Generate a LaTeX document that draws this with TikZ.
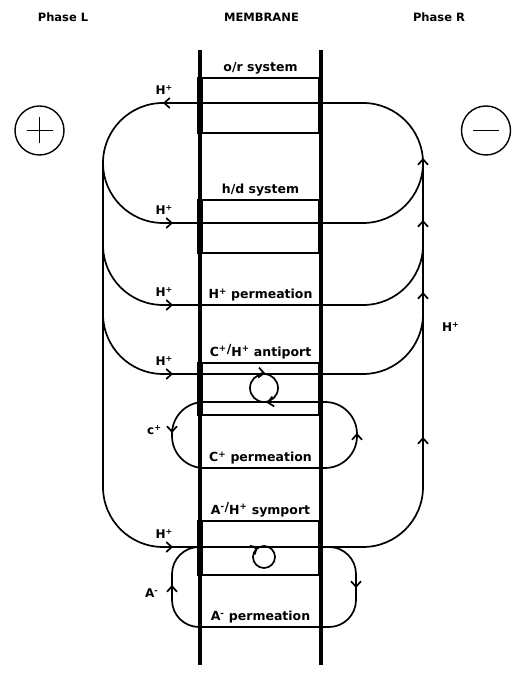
\documentclass[tikz,border=0pt]{standalone}
\usepackage{fontspec}
\setmainfont{DejaVu Sans}
\usetikzlibrary{positioning}
\usetikzlibrary{arrows.meta}
\usetikzlibrary{calc}
\newcommand{\Hp}{H\textsuperscript{+}}
\newcommand{\headfont}{\fontsize{11.5}{14}\selectfont\bfseries}
\newcommand{\sysfont}{\fontsize{12.5}{15}\selectfont\bfseries}
\newcommand{\ionfont}{\fontsize{12}{14}\selectfont\bfseries}
\newcommand{\flowtip}[2]{\draw[flowtip] ($#1+(#2:-4pt)$) -- #1;}
\tikzset{
  wall/.style={line width=4.5pt},
  thickwall/.style={line width=6pt},
  channel/.style={rectangle,draw,line width=1.4pt,minimum width=117pt,inner sep=0pt},
  gate/.style={inner sep=0pt,minimum size=0pt},
  cycle/.style={circle,draw,line width=1.7pt,inner sep=0pt,minimum size=#1},
  sysname/.style={font=\sysfont},
  heading/.style={font=\headfont},
  ion/.style={font=\ionfont,anchor=base west,inner sep=0pt},
  pole/.style={circle,draw,line width=1.4pt,minimum size=49pt},
  flux/.style={line width=1.7pt},
  flowtip/.style={flux,-{Straight Barb[length=5.5pt,width=10pt]}}
}

\begin{document}
\begin{tikzpicture}[x=1pt,y=1pt]
  \useasboundingbox (0,0) rectangle (519,677);
  % phases
  \node (phl) [heading] at (63,659.5) {Phase L};
  \node (mem) [heading] at (261.5,659.5) {MEMBRANE};
  \node (phr) [heading] at (439,659.5) {Phase R};
  \node (anode) [pole] at (39.5,546.5) {};
  \draw[line width=1.4pt] ([xshift=-13pt]anode.center) -- ([xshift=13pt]anode.center)
    ([yshift=-13pt]anode.center) -- ([yshift=13pt]anode.center);
  \node (cathode) [pole] at (486,546.5) {};
  \draw[line width=1.4pt] ([xshift=-13pt]cathode.center) -- ([xshift=13pt]cathode.center);
  % membrane
  \coordinate (mlt) at (200,627);
  \coordinate (mlb) at (200,12);
  \coordinate (mrt) at (321,627);
  \coordinate (mrb) at (321,12);
  \draw[wall] (mlt) -- (mlb);
  \draw[wall] (mrt) -- (mrb);
  \node (orsys) [channel,minimum height=55pt,label={[sysname]above:o/r system}] at (260.5,571.5) {};
  \node (hdsys) [channel,minimum height=53pt,label={[sysname]above:h/d system}] at (260.5,450.5) {};
  \node (anti) [channel,minimum height=52pt,
    label={[sysname]above:C\textsuperscript{+}\raisebox{3pt}{/}\Hp{} antiport}] at (260.5,288) {};
  \node (sym) [channel,minimum height=54pt,
    label={[sysname]above:A\textsuperscript{-}\raisebox{3pt}{/}\Hp{} symport}] at (260.5,129) {};
  \draw[thickwall] ([xshift=-1.5pt]orsys.north west) -- ([xshift=-1.5pt]orsys.south west);
  \draw[thickwall] ([xshift=-1.5pt]hdsys.north west) -- ([xshift=-1.5pt]hdsys.south west);
  \draw[thickwall] ([xshift=-1.5pt]anti.north west) -- ([xshift=-1.5pt]anti.south west);
  \draw[thickwall] ([xshift=-1.5pt]sym.north west) -- ([xshift=-1.5pt]sym.south west);
  \node (hperm) [gate,label={[sysname]above:\Hp{} permeation}] at (260.5,372) {};
  \node (cperm) [gate,label={[sysname]above:C\textsuperscript{+} permeation}] at (260.5,209) {};
  \node (aperm) [gate,label={[sysname]above:A\textsuperscript{-} permeation}] at (260.5,50) {};
  % proton circuit
  \coordinate (ltop) at (103,514);
  \coordinate (lbot) at (103,190);
  \coordinate (rtop) at (423,514);
  \coordinate (rbot) at (423,190);
  \draw[flux] (163,574) -- (363,574) arc[start angle=90,end angle=-90,radius=60pt]
    -- (163,454) arc[start angle=270,end angle=90,radius=60pt];
  \draw[flux] (ltop) -- (lbot);
  \draw[flux] (rbot) -- (rtop);
  \draw[flux] (103,432) arc[start angle=180,end angle=270,radius=60pt]
    -- (363,372) arc[start angle=270,end angle=360,radius=60pt];
  \draw[flux] (103,363) arc[start angle=180,end angle=270,radius=60pt]
    -- (363,303) arc[start angle=270,end angle=360,radius=60pt];
  \draw[flux] (lbot) arc[start angle=180,end angle=270,radius=60pt]
    -- (363,130) arc[start angle=270,end angle=360,radius=60pt];
  \flowtip{(163,574)}{180}
  \flowtip{(173,454)}{0}
  \flowtip{(173,372)}{0}
  \flowtip{(173,303)}{0}
  \flowtip{(173,130)}{0}
  \flowtip{(423,519)}{90}
  \flowtip{(423,457)}{90}
  \flowtip{(423,385)}{90}
  \flowtip{(423,240)}{90}
  % counter ions
  \draw[flux,rounded corners=32pt] (172,209) rectangle (357,275);
  \draw[flux,rounded corners=27pt] (172,50) rectangle (356,130);
  \flowtip{(172,244)}{270}
  \flowtip{(357,244)}{90}
  \flowtip{(172,92)}{90}
  \flowtip{(356,89)}{270}
  \node (cyc1) [cycle=28pt] at (264,289) {};
  \flowtip{(cyc1.85)}{-5}
  \flowtip{(cyc1.280)}{190}
  \node (cyc2) [cycle=22pt] at (264,120) {};
  \flowtip{(cyc2.120)}{30}
  % ion labels
  \node (h1) [ion] at (155.5,582.5) {\Hp};
  \node (h2) [ion] at (155.5,462.5) {\Hp};
  \node (h3) [ion] at (155.5,380.5) {\Hp};
  \node (h4) [ion] at (155.5,311.5) {\Hp};
  \node (h5) [ion] at (155.5,138.5) {\Hp};
  \node (h6) [ion] at (442,345) {\Hp};
  \node (cion) [ion] at (147,242) {c\textsuperscript{+}};
  \node (aion) [ion] at (145,79) {A\textsuperscript{-}};
\end{tikzpicture}
\end{document}
